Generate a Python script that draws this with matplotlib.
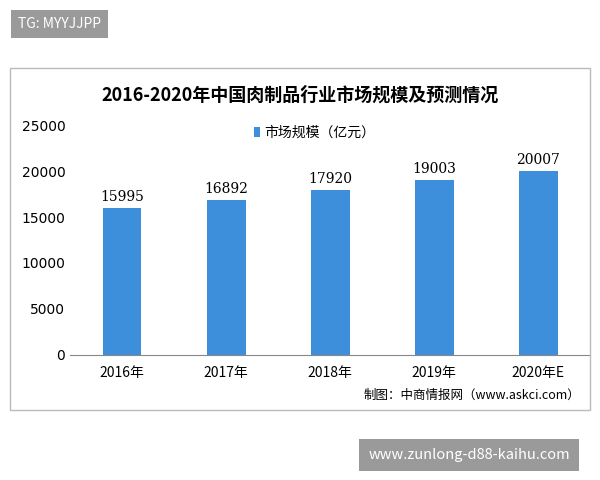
import matplotlib
matplotlib.use("Agg")
import matplotlib.pyplot as plt
from matplotlib.patches import Rectangle

plt.rcParams['font.family'] = ['Noto Sans CJK SC', 'DejaVu Sans']

categories = ["2016年", "2017年", "2018年", "2019年", "2020年E"]
values = [15995, 16892, 17920, 19003, 20007]
yticks = [0, 5000, 10000, 15000, 20000, 25000]

fig = plt.figure(figsize=(6, 4.8), dpi=100)
fig.patches.append(Rectangle((10/600, 1-410/480), 580/600, 342/480, transform=fig.transFigure,
                             fill=False, edgecolor="#bbbbbb", linewidth=1))
ax = fig.add_axes([0.117, 1-355/480, 0.867, 230/480])
x = range(len(categories))
ax.bar(x, values, width=0.37, color="#3d8fdc", label="市场规模（亿元）")
for i, v in zip(x, values):
    ax.text(i, v + 400, str(v), ha="center", va="bottom", fontsize=10, family=["DejaVu Serif"])
ax.set_xlim(-0.5, 4.5)
ax.set_ylim(0, 25000)
ax.set_yticks(yticks)
ax.set_yticklabels([str(t) for t in yticks], fontsize=10, family=["DejaVu Sans"])
ax.set_xticks(list(x))
ax.set_xticklabels(categories, fontsize=10)
for s in ["top", "right", "left"]:
    ax.spines[s].set_visible(False)
ax.spines["bottom"].set_color("#888888")
ax.tick_params(axis="y", length=0)
ax.tick_params(axis="x", length=0, pad=8)
ax.legend(loc="upper center", bbox_to_anchor=(0.47, 1.05), frameon=False, fontsize=10,
          handlelength=0.4, handleheight=0.8, handletextpad=0.3)
fig.text(0.5, 1-95/480, "2016-2020年中国肉制品行业市场规模及预测情况", ha="center", va="center",
         fontsize=13, fontweight="bold")
fig.text(0.967, 1-395/480, "制图：中商情报网（www.askci.com）", ha="right", va="center", fontsize=9)
fig.text(18/600, 1-24/480, "TG: MYYJJPP", ha="left", va="center", fontsize=10, color="white",
         bbox=dict(boxstyle="square,pad=0.5", facecolor="#9a9a9a", edgecolor="none"))
fig.text(469/600, 1-455/480, "www.zunlong-d88-kaihu.com", ha="center", va="center", fontsize=10.5,
         color="white", bbox=dict(boxstyle="square,pad=0.6", facecolor="#9a9a9a", edgecolor="none"))
fig.savefig("out.png", dpi=100)
